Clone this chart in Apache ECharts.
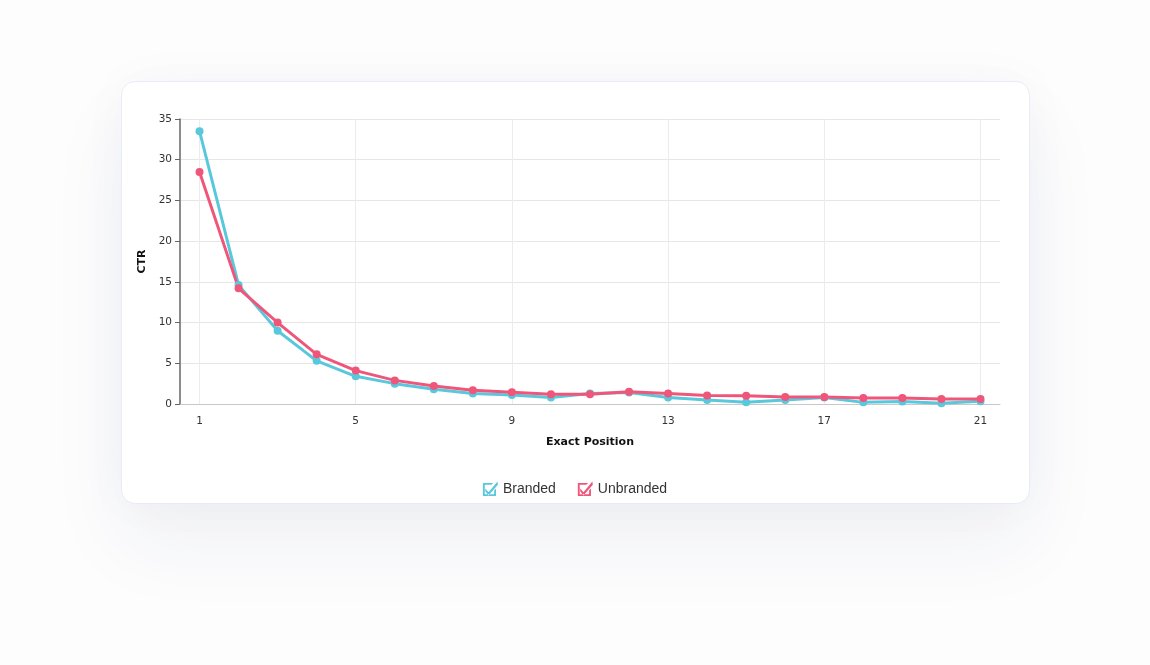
<!DOCTYPE html>
<html><head><meta charset="utf-8">
<script src="https://cdn.jsdelivr.net/npm/echarts@6/dist/echarts.min.js"></script>
<style>
html,body{margin:0;padding:0;width:1150px;height:665px;background:#fdfdfe;overflow:hidden;}
#card{position:absolute;left:121px;top:81px;width:907px;height:421px;background:#fff;border:1px solid #e9ecf6;border-radius:14px;box-shadow:0 40px 80px rgba(40,50,90,0.06),0 0 50px rgba(40,50,90,0.03);}
#chart{position:absolute;left:0;top:0;width:1150px;height:665px;}
</style></head>
<body><div id="card"></div><div id="chart"></div>
<script>
const positions = ['1','2','3','4','5','6','7','8','9','10','11','12','13','14','15','16','17','18','19','20','21'];
const branded = [33.5,14.6,9.0,5.3,3.4,2.5,1.8,1.3,1.1,0.8,1.3,1.4,0.8,0.5,0.2,0.5,0.8,0.2,0.3,0.1,0.35];
const unbranded = [28.5,14.2,10.0,6.1,4.1,2.9,2.2,1.7,1.45,1.2,1.2,1.5,1.3,1.05,1.0,0.85,0.85,0.75,0.75,0.6,0.6];
const seriesNames = ['Branded','Unbranded'];
const colors = ['#5ac8dc','#ef5679'];
const checkIcon = 'path://M0,2 L0,16 L14,16 L14,8 L12,10 L12,14 L2,14 L2,4 L9,4 L11,2 Z M2.5,8 L6,12 L15.5,0.5 L16,4 L6,15.5 L2.5,11 Z';
const chart = echarts.init(document.getElementById('chart'));
chart.setOption({
  animation:false,
  grid:{left:180,right:150,top:119,bottom:261},
  legend:{bottom:164,left:'center',itemWidth:15,itemHeight:15,itemGap:22,
    textStyle:{color:'#333',fontSize:14,fontFamily:'"Liberation Sans", Arial, sans-serif'},
    data:seriesNames.map((n,i)=>({name:n,icon:checkIcon,itemStyle:{color:colors[i]}}))},
  xAxis:{type:'category',data:positions,boundaryGap:true,
    name:'Exact Position',nameLocation:'middle',nameGap:33,
    nameTextStyle:{fontWeight:'bold',fontSize:11,color:'#111',fontFamily:'DejaVu Sans, sans-serif'},
    axisLine:{lineStyle:{color:'#c8c8c8',width:1}},
    axisTick:{show:false},
    axisLabel:{interval:3,color:'#333',fontSize:10.5,margin:12,fontFamily:'DejaVu Sans, sans-serif'},
    splitLine:{show:true,interval:3,alignWithLabel:true,lineStyle:{color:'#ececec'}}},
  yAxis:{type:'value',min:0,max:35,interval:5,
    name:'CTR',nameLocation:'middle',nameGap:30,nameRotate:90,
    nameTextStyle:{fontWeight:'bold',fontSize:11,color:'#111',fontFamily:'DejaVu Sans, sans-serif'},
    axisLine:{show:true,lineStyle:{color:'#666',width:1.5}},
    axisTick:{show:true,length:5,lineStyle:{color:'#666'}},
    axisLabel:{color:'#333',fontSize:10.5,margin:8,fontFamily:'DejaVu Sans, sans-serif'},
    splitLine:{show:true,lineStyle:{color:'#e6e6e6'}}},
  series:[
    {name:seriesNames[0],type:'line',data:branded,symbol:'circle',symbolSize:8,
     itemStyle:{color:colors[0]},lineStyle:{width:3,color:colors[0]}},
    {name:seriesNames[1],type:'line',data:unbranded,symbol:'circle',symbolSize:8,
     itemStyle:{color:colors[1]},lineStyle:{width:3,color:colors[1]}}
  ]
});
</script></body></html>
